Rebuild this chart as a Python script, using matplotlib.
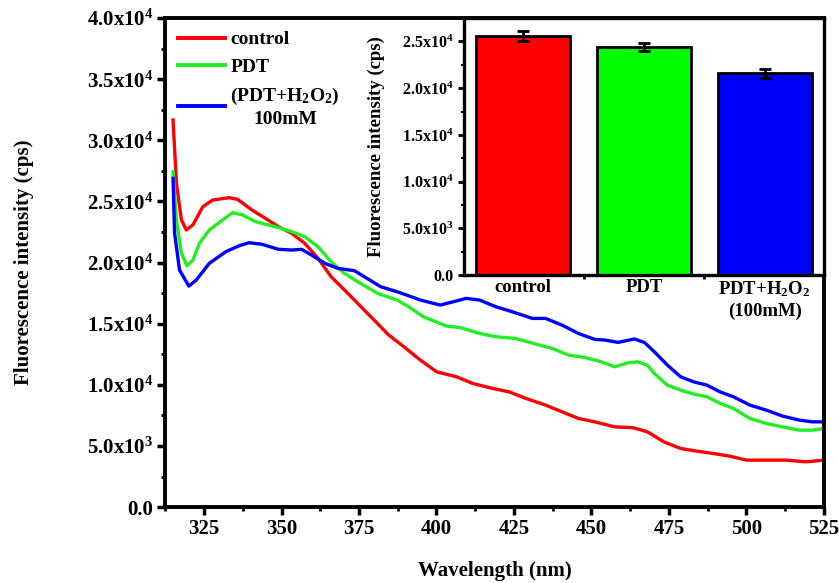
import matplotlib.pyplot as plt
import numpy as np

plt.rcParams['font.family'] = 'Liberation Serif'
plt.rcParams['font.weight'] = 'bold'
plt.rcParams['axes.labelweight'] = 'bold'
plt.rcParams['mathtext.fontset'] = 'custom'
plt.rcParams['mathtext.rm'] = 'Liberation Serif:bold'
plt.rcParams['mathtext.it'] = 'Liberation Serif:bold'
plt.rcParams['mathtext.bf'] = 'Liberation Serif:bold'
plt.rcParams['mathtext.default'] = 'rm'

# emission spectra (wavelength in nm, intensity in cps)
wl_control = [315, 316.1, 317.7, 319.3, 321.4, 324.6, 327.8, 333.1, 335.8, 340.5, 344.8, 349,
              353.3, 357.5, 361.8, 366, 371.4, 376.7, 379.9, 384.5, 389.5, 394.8, 400.1, 406.5,
              411.8, 418.2, 423.5, 428.8, 435.2, 440.5, 445.8, 451.1, 457.5, 463.5, 468.1,
              473.4, 478.8, 484.1, 489.4, 494.7, 500, 504.5, 512.8, 519.2, 525]
int_control = [31670, 26490, 23490, 22670, 23080, 24570, 25120, 25310, 25180, 24300, 23620, 22940,
               22400, 21580, 20350, 18850, 17490, 16120, 15300, 14100, 13120, 12030, 11070, 10660,
               10110, 9710, 9430, 8900, 8350, 7800, 7260, 6980, 6570, 6500, 6160,
               5340, 4800, 4580, 4390, 4170, 3850, 3850, 3850, 3710, 3850]

wl_pdt = [315, 316.1, 317.7, 319.5, 321.4, 323.5, 326.7, 331, 334.2, 337.4, 341.6, 348, 353.3,
          357.5, 361.8, 366, 370.3, 374.6, 381, 387.3, 391, 395.8, 403.3, 407.5, 413.9, 419.2,
          425.6, 432, 437.3, 442.6, 447.9, 453.2, 457.5, 461.8, 464.9, 468.1, 470.3, 474.5,
          478.8, 483, 487.3, 491.5, 495.8, 501.1, 506.4, 511.7, 517.1, 521.3, 525]
int_pdt = [27440, 23490, 20760, 19750, 20210, 21580, 22670, 23490, 24090, 23900, 23350, 22940, 22530,
           22120, 21300, 20070, 19120, 18440, 17490, 16940, 16400, 15570, 14810, 14700, 14210, 13940,
           13800, 13340, 12990, 12440, 12250, 11890, 11480, 11810, 11890, 11600, 10940, 9980,
           9580, 9250, 9030, 8490, 8080, 7260, 6850, 6570, 6300, 6300, 6440]

wl_h2o2 = [315, 315.5, 317.1, 320.1, 322.5, 326.7, 332, 336.3, 339.5, 343.7, 349, 353.3, 356.5,
           359.7, 364, 368.2, 373.5, 376.7, 382, 387.3, 392, 394.8, 401.2, 405.4, 409.6, 413.9,
           419.2, 424.5, 430.9, 435.2, 440.5, 445.8, 451.1, 454.3, 458.6, 463.9, 467.1, 470.3,
           474.5, 478.8, 483, 487.3, 491.5, 495.8, 501.1, 506.4, 511.7, 517.1, 521.3, 525]
int_h2o2 = [26900, 22400, 19390, 18080, 18580, 19940, 20890, 21380, 21630, 21500, 21090, 21030, 21090,
            20620, 19940, 19530, 19340, 18850, 18030, 17620, 17200, 16940, 16530, 16800, 17080, 16940,
            16390, 15980, 15440, 15440, 14890, 14210, 13720, 13670, 13480, 13760, 13470, 12710,
            11620, 10660, 10250, 9980, 9430, 9030, 8350, 7940, 7450, 7120, 6980, 6980]

# inset bar data
groups = ['control', 'PDT', 'PDT+H$_2$O$_2$\n(100mM)']
bar_means = [25600, 24420, 21610]
bar_errs = [520, 460, 480]

xticks = [325, 350, 375, 400, 425, 450, 475, 500, 525]
yticks = [0, 5000, 10000, 15000, 20000, 25000, 30000, 35000, 40000]
ytick_labels = ['0.0', '5.0x10$^3$', '1.0x10$^4$', '1.5x10$^4$', '2.0x10$^4$',
                '2.5x10$^4$', '3.0x10$^4$', '3.5x10$^4$', '4.0x10$^4$']
inset_yticks = [0, 5000, 10000, 15000, 20000, 25000]
inset_ytick_labels = ['0.0', '5.0x10$^3$', '1.0x10$^4$', '1.5x10$^4$', '2.0x10$^4$', '2.5x10$^4$']

red = '#ff0000'
green = '#22ee22'
blue = '#0000ff'

fig = plt.figure(figsize=(8.39, 5.83), dpi=100)
ax = fig.add_axes([0.197, 0.13, 0.785, 0.839])

ax.plot(wl_control, int_control, color=red, lw=2.4, label='control')
ax.plot(wl_pdt, int_pdt, color=green, lw=2.4, label='PDT')
ax.plot(wl_h2o2, int_h2o2, color=blue, lw=2.4, label='(PDT+H$_2$O$_2$)\n100mM')

ax.set_xlim(315, 525)
ax.set_ylim(0, 40000)
ax.set_xticks(xticks)
ax.set_xticks(np.arange(312.5, 525, 25), minor=True)
ax.set_yticks(yticks)
ax.set_yticklabels(ytick_labels)
ax.set_yticks(np.arange(2500, 40000, 5000), minor=True)
ax.tick_params(which='major', direction='out', length=5.5, width=2.5, labelsize=15, pad=3)
ax.tick_params(which='minor', direction='out', length=3, width=2)
for s in ax.spines.values():
    s.set_linewidth(2.8)

ax.set_xlabel('Wavelength (nm)', fontsize=15)
ax.set_ylabel('Fluorescence intensity (cps)', fontsize=15)
ax.xaxis.set_label_coords(0.5, -0.11)
ax.yaxis.set_label_coords(-0.2, 0.5)

leg = ax.legend(loc='upper left', bbox_to_anchor=(0.0, 1.0), frameon=False, fontsize=14,
                handlelength=2.4, handletextpad=0.3, labelspacing=0.5, borderpad=0.45,
                borderaxespad=0.2)
for line in leg.get_lines():
    line.set_linewidth(2.8)
leg.get_texts()[2].set_multialignment('center')
leg.get_texts()[2].set_linespacing(1.35)

# inset bar chart
axin = fig.add_axes([0.553, 0.528, 0.429, 0.441])
pos = np.arange(1, len(groups) + 1)
axin.bar(pos, bar_means, width=0.78, color=[red, '#00ff00', blue], edgecolor='black', linewidth=2,
         yerr=bar_errs, capsize=4, error_kw=dict(ecolor='black', elinewidth=2, capthick=2))
axin.set_xlim(0.51, 3.49)
axin.set_ylim(0, 27500)
axin.set_xticks(pos)
axin.set_xticklabels(groups, linespacing=1.3)
axin.set_xticks([1.5, 2.5], minor=True)
axin.set_yticks(inset_yticks)
axin.set_yticklabels(inset_ytick_labels)
axin.set_yticks(np.arange(2500, 27500, 5000), minor=True)
axin.tick_params(axis='x', which='major', length=0, labelsize=13.5, pad=3)
axin.tick_params(axis='x', which='minor', direction='out', length=3, width=2)
axin.tick_params(axis='y', which='major', direction='out', length=4, width=2, labelsize=11.5)
axin.tick_params(axis='y', which='minor', direction='out', length=2.5, width=1.5)
for s in axin.spines.values():
    s.set_linewidth(2.4)
axin.set_ylabel('Fluorescence intensity (cps)', fontsize=13.5)
axin.yaxis.set_label_coords(-0.22, 0.5)

fig.savefig('out.png', dpi=100)
